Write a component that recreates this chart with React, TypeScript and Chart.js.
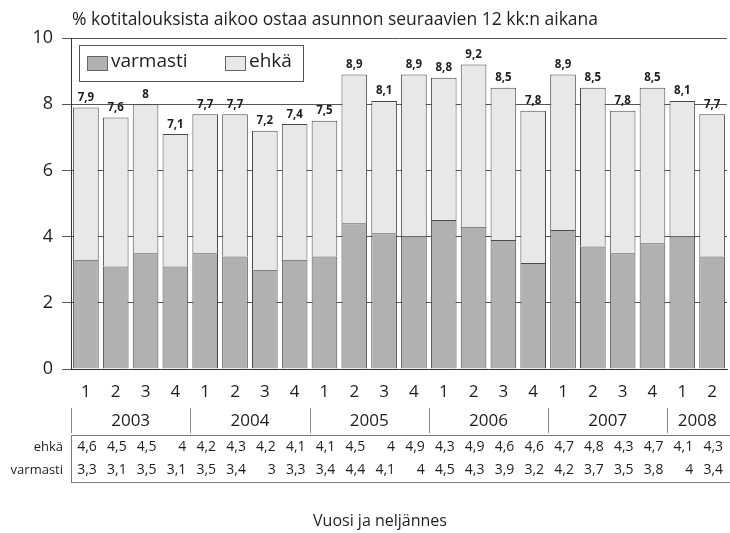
import React, { useEffect, useRef } from 'react';
import { Chart, registerables } from 'chart.js';

Chart.register(...registerables);

const FONT = '"Open Sans", "Noto Sans", sans-serif';

const quarters = ['1', '2', '3', '4', '1', '2', '3', '4', '1', '2', '3', '4', '1', '2', '3', '4', '1', '2', '3', '4', '1', '2'];
const years = ['2003', '2004', '2005', '2006', '2007', '2008'];
const yearSpans = [4, 4, 4, 4, 4, 2];
const varmasti = [3.3, 3.1, 3.5, 3.1, 3.5, 3.4, 3, 3.3, 3.4, 4.4, 4.1, 4, 4.5, 4.3, 3.9, 3.2, 4.2, 3.7, 3.5, 3.8, 4, 3.4];
const ehka = [4.6, 4.5, 4.5, 4, 4.2, 4.3, 4.2, 4.1, 4.1, 4.5, 4, 4.9, 4.3, 4.9, 4.6, 4.6, 4.7, 4.8, 4.3, 4.7, 4.1, 4.3];
const seriesNames = ['varmasti', 'ehkä'];
const titleText = '% kotitalouksista aikoo ostaa asunnon seuraavien 12 kk:n aikana';
const xTitleText = 'Vuosi ja neljännes';
const yMin = 0;
const yMax = 10;
const yStep = 2;

const COLOR_VARMASTI = '#b1b1b1';
const COLOR_EHKA = '#e8e8e8';
const BORDER = '#4a4a4a';
const TEXT = '#1e1e1e';

const fmt = (v: number) => String(Math.round(v * 10) / 10).replace('.', ',');

const overlayPlugin = {
  id: 'overlay',
  afterDatasetsDraw(chart: any) {
    const ctx = chart.ctx;
    const meta = chart.getDatasetMeta(1);
    ctx.save();
    ctx.fillStyle = TEXT;
    ctx.font = `bold 11.5px ${FONT}`;
    ctx.textAlign = 'center';
    ctx.textBaseline = 'bottom';
    meta.data.forEach((bar: any, i: number) => {
      const total = varmasti[i] + ehka[i];
      ctx.fillText(fmt(total), bar.x, bar.y - 4);
    });
    ctx.restore();
  },
  afterDraw(chart: any) {
    const ctx = chart.ctx;
    const area = chart.chartArea;
    const xs = chart.scales.x;
    const n = quarters.length;
    const pitch = (area.right - area.left) / n;
    ctx.save();

    // Title
    ctx.fillStyle = TEXT;
    ctx.font = `17.5px ${FONT}`;
    ctx.textAlign = 'left';
    ctx.textBaseline = 'middle';
    ctx.fillText(titleText, 72, 20);

    // Legend box
    const lx = 79, ly = 45, lw = 224, lh = 36;
    ctx.fillStyle = '#ffffff';
    ctx.fillRect(lx, ly, lw, lh);
    ctx.strokeStyle = '#555';
    ctx.lineWidth = 1;
    ctx.strokeRect(lx + 0.5, ly + 0.5, lw, lh);
    const items = [
      { name: seriesNames[0], color: COLOR_VARMASTI, x: 87 },
      { name: seriesNames[1], color: COLOR_EHKA, x: 225 },
    ];
    ctx.font = `19px ${FONT}`;
    ctx.textBaseline = 'middle';
    items.forEach((it) => {
      ctx.fillStyle = it.color;
      ctx.fillRect(it.x, 56, 20, 14);
      ctx.strokeStyle = '#666';
      ctx.strokeRect(it.x + 0.5, 56.5, 20, 14);
      ctx.fillStyle = TEXT;
      ctx.fillText(it.name, it.x + 24, 62);
    });

    // Year row
    ctx.strokeStyle = '#8a8a8a';
    ctx.lineWidth = 1;
    let idx = 0;
    ctx.font = `17px ${FONT}`;
    ctx.textAlign = 'center';
    years.forEach((yr, k) => {
      const span = yearSpans[k];
      const left = xs.getPixelForValue(idx) - pitch / 2;
      const right = xs.getPixelForValue(idx + span - 1) + pitch / 2;
      ctx.beginPath();
      ctx.moveTo(Math.round(left) + 0.5, 408);
      ctx.lineTo(Math.round(left) + 0.5, 433);
      ctx.stroke();
      ctx.fillStyle = TEXT;
      ctx.fillText(yr, (left + right) / 2, 421);
      idx += span;
    });

    // Table lines
    ctx.strokeStyle = '#7a7a7a';
    ctx.beginPath();
    ctx.moveTo(area.left, 435.5);
    ctx.lineTo(730, 435.5);
    ctx.moveTo(area.left, 482.5);
    ctx.lineTo(730, 482.5);
    ctx.moveTo(Math.round(area.left) + 0.5, 435);
    ctx.lineTo(Math.round(area.left) + 0.5, 483);
    ctx.stroke();

    // Row labels
    ctx.fillStyle = TEXT;
    ctx.font = `13px ${FONT}`;
    ctx.textAlign = 'right';
    ctx.fillText(seriesNames[1], 63, 447);
    ctx.fillText(seriesNames[0], 63, 470);

    // Values
    ctx.font = `14px ${FONT}`;
    for (let i = 0; i < n; i++) {
      const cx = xs.getPixelForValue(i);
      const rx = cx + pitch / 2 - 4;
      ctx.fillText(fmt(ehka[i]), rx, 447);
      ctx.fillText(fmt(varmasti[i]), rx, 470);
    }

    // X title
    ctx.textAlign = 'center';
    ctx.font = `16px ${FONT}`;
    ctx.fillText(xTitleText, 380, 521);

    ctx.restore();
  },
};

export default function App() {
  const ref = useRef<HTMLCanvasElement | null>(null);
  useEffect(() => {
    if (!ref.current) return;
    const chart = new Chart(ref.current, {
      type: 'bar',
      data: {
        labels: quarters,
        datasets: [
          {
            label: seriesNames[0],
            data: varmasti,
            backgroundColor: COLOR_VARMASTI,
            borderColor: BORDER,
            borderWidth: 1,
            barPercentage: 0.86,
            categoryPercentage: 1,
          },
          {
            label: seriesNames[1],
            data: ehka,
            backgroundColor: COLOR_EHKA,
            borderColor: BORDER,
            borderWidth: 1,
            barPercentage: 0.86,
            categoryPercentage: 1,
          },
        ],
      },
      options: {
        responsive: false,
        animation: false,
        devicePixelRatio: 1,
        layout: { padding: { top: 38, right: 1, left: 0, bottom: 0 } },
        plugins: {
          legend: { display: false },
          title: { display: false },
          tooltip: { enabled: false },
        },
        scales: {
          x: {
            stacked: true,
            grid: { display: false, drawTicks: false },
            border: { display: true, color: '#333', width: 1 },
            ticks: {
              font: { family: FONT, size: 17 },
              color: TEXT,
              padding: 13,
              maxRotation: 0,
              autoSkip: false,
            },
            afterFit: (s: any) => {
              s.height = 164;
            },
          },
          y: {
            stacked: true,
            min: yMin,
            max: yMax,
            ticks: {
              stepSize: yStep,
              font: { family: FONT, size: 18 },
              color: TEXT,
              padding: 9,
            },
            grid: { color: '#555', lineWidth: 1, tickLength: 9, drawTicks: true },
            border: { display: true, color: '#333', width: 1 },
            afterFit: (s: any) => {
              s.width = 71;
            },
          },
        },
      },
      plugins: [overlayPlugin],
    });
    return () => chart.destroy();
  }, []);

  return (
    <div style={{ position: 'fixed', left: 0, top: 0, width: 730, height: 533, background: '#fff' }}>
      <canvas ref={ref} width={730} height={533} style={{ display: 'block' }} />
    </div>
  );
}
